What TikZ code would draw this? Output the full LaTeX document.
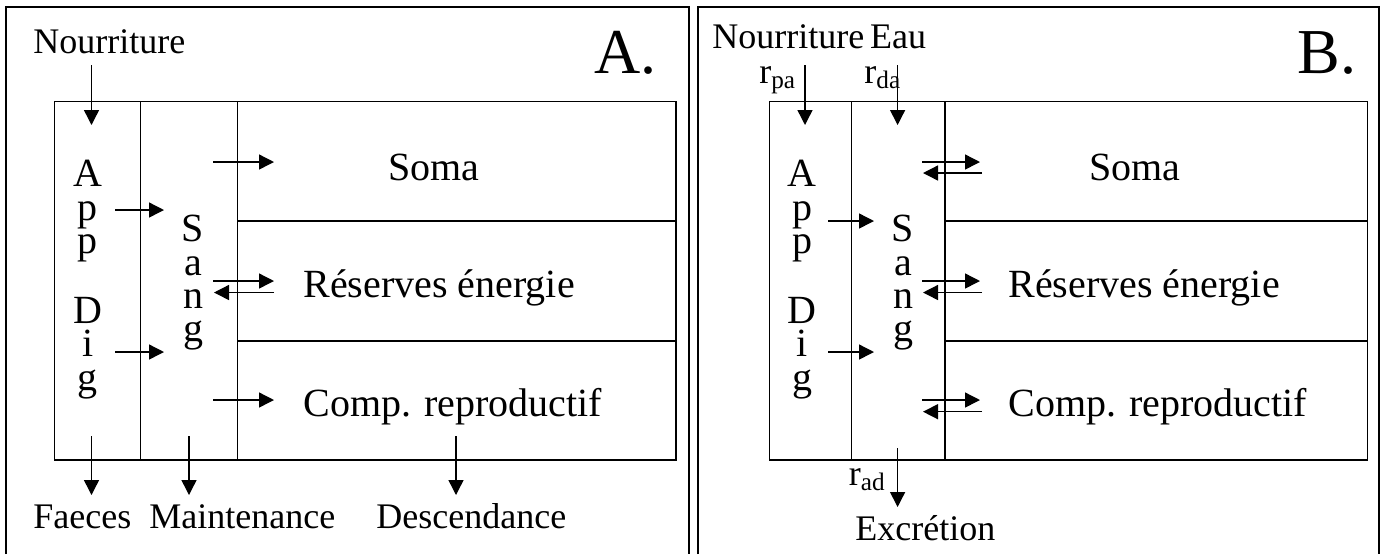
\documentclass[tikz,border=0pt]{standalone}
\usepackage{fontspec}
\setmainfont{Liberation Serif}
\usetikzlibrary{arrows.meta, positioning}

\begin{document}
\begin{tikzpicture}[
    x=0.5pt, y=-0.5pt,
    >={Triangle[length=7.5pt, width=7.5pt]},
    % Styles des cadres et compartiments
    frame/.style={line width=1pt},
    compline/.style={line width=0.7pt},
    flow/.style={->, line width=0.7pt},
    % Styles des textes
    lbl/.style={inner sep=0pt, anchor=base west, font=\fontsize{18}{20}\selectfont},
    boxtext/.style={inner sep=0pt, anchor=base west, font=\fontsize{20}{22}\selectfont},
    stack/.style={inner sep=0pt, anchor=north, align=center, font=\fontsize{20}{16.65}\selectfont},
    bigletter/.style={inner sep=0pt, anchor=base west, font=\fontsize{32}{34}\selectfont}
]
\useasboundingbox (0,0) rectangle (1391,554);

% -------------------------
% PANNEAU A (Gauche)
% -------------------------
\draw[frame] (6,554) |- (689,6.7) -- (689,554);
\draw[compline] (54.5,101.7) rectangle (676,460);
\draw[compline] (140.6,101.7) -- (140.6,460);
\draw[compline] (237.5,101.7) -- (237.5,460);
\draw[compline] (237.5,221) -- (676,221);
\draw[compline] (237.5,341) -- (676,341);

\node[bigletter] (lettreA) at (594,73.3) {A.};
\node[lbl] (nourritureA) at (33,53.3) {Nourriture};
\node[stack] (appA) at (88,160) {A\\p\\p\\[16.65pt]D\\i\\g};
\node[stack] (sangA) at (193,215) {S\\a\\n\\g};
\node[boxtext, anchor=base] (somaA) at (434,180) {Soma};
\node[boxtext] (reservesA) at (303,297) {Réserves énergie};
\node[boxtext] (compA) at (303,416.7) {Comp. reproductif};
\node[lbl] (faeces) at (33,528) {Faeces};
\node[lbl] (maintenance) at (149,528) {Maintenance};
\node[lbl] (descendance) at (376,528) {Descendance};

% Flux internes A
\coordinate (entreeA) at (91.5,65);
\coordinate (appA_in) at (91.5,125);
\draw[flow] (entreeA) -- (appA_in);

\coordinate (appA_o1) at (115,210);
\coordinate (sangA_i1) at (164,210);
\coordinate (appA_o2) at (115,352);
\coordinate (sangA_i2) at (164,352);
\draw[flow] (appA_o1) -- (sangA_i1);
\draw[flow] (appA_o2) -- (sangA_i2);

\coordinate (sangA_s) at (213,162);
\coordinate (somaA_in) at (274,162);
\draw[flow] (sangA_s) -- (somaA_in);

\coordinate (sangA_r) at (213,281);
\coordinate (resA_in) at (274,281);
\coordinate (resA_out) at (274,292.5);
\coordinate (sangA_rr) at (214,292.5);
\draw[flow] (sangA_r) -- (resA_in);
\draw[flow] (resA_out) -- (sangA_rr);

\coordinate (sangA_c) at (213,400);
\coordinate (compA_in) at (274,400);
\draw[flow] (sangA_c) -- (compA_in);

% Sorties A
\coordinate (faeces_src) at (91.5,436);
\coordinate (faeces_dst) at (91.5,495);
\coordinate (maint_src) at (189,436);
\coordinate (maint_dst) at (189,495);
\coordinate (desc_src) at (456,436);
\coordinate (desc_dst) at (456,495);
\draw[flow] (faeces_src) -- (faeces_dst);
\draw[flow] (maint_src) -- (maint_dst);
\draw[flow] (desc_src) -- (desc_dst);

% -------------------------
% PANNEAU B (Droite)
% -------------------------
\draw[frame] (698,554) |- (1379,6.7) -- (1379,554);
\draw[compline] (769.5,101.7) rectangle (1367.7,460);
\draw[compline] (851.4,101.7) -- (851.4,460);
\draw[compline] (945,101.7) -- (945,460);
\draw[compline] (945,221) -- (1367.7,221);
\draw[compline] (945,341) -- (1367.7,341);

\node[bigletter] (lettreB) at (1297,73.3) {B.};
\node[lbl] (nourritureB) at (712,48.3) {Nourriture};
\node[lbl, right=0.25em of nourritureB.base east, anchor=base west] (eau) {Eau};
\node[lbl] (rpa) at (759,83.3) {r\textsubscript{pa}};
\node[lbl] (rda) at (864,83.3) {r\textsubscript{da}};
\node[stack] (appB) at (802,160) {A\\p\\p\\[16.65pt]D\\i\\g};
\node[stack] (sangB) at (903,215) {S\\a\\n\\g};
\node[boxtext, anchor=base] (somaB) at (1135,180) {Soma};
\node[boxtext] (reservesB) at (1008,297) {Réserves énergie};
\node[boxtext] (compB) at (1008,416.7) {Comp. reproductif};
\node[lbl, anchor=base east] (rad) at (886,485) {r\textsubscript{ad}};
\node[lbl] (excretion) at (855,540) {Excrétion};

% Flux internes B
\coordinate (entreeB) at (805,65);
\coordinate (appB_in) at (805,125);
\coordinate (eauB) at (897.6,65);
\coordinate (sangB_in) at (897.6,125);
\draw[flow] (entreeB) -- (appB_in);
\draw[flow] (eauB) -- (sangB_in);

\coordinate (appB_o1) at (828,221);
\coordinate (sangB_i1) at (874,221);
\coordinate (appB_o2) at (828,352);
\coordinate (sangB_i2) at (874,352);
\draw[flow] (appB_o1) -- (sangB_i1);
\draw[flow] (appB_o2) -- (sangB_i2);

\coordinate (sangB_s) at (922,162);
\coordinate (somaB_in) at (980,162);
\coordinate (somaB_out) at (982,173);
\coordinate (sangB_ss) at (923,173);
\draw[flow] (sangB_s) -- (somaB_in);
\draw[flow] (somaB_out) -- (sangB_ss);

\coordinate (sangB_r) at (922,281);
\coordinate (resB_in) at (980,281);
\coordinate (resB_out) at (982,292.5);
\coordinate (sangB_rr) at (923,292.5);
\draw[flow] (sangB_r) -- (resB_in);
\draw[flow] (resB_out) -- (sangB_rr);

\coordinate (sangB_c) at (922,400);
\coordinate (compB_in) at (980,400);
\coordinate (compB_out) at (982,411.7);
\coordinate (sangB_cc) at (923,411.7);
\draw[flow] (sangB_c) -- (compB_in);
\draw[flow] (compB_out) -- (sangB_cc);

% Sortie B
\coordinate (excr_src) at (897.6,448);
\coordinate (excr_dst) at (897.6,507);
\draw[flow] (excr_src) -- (excr_dst);

\end{tikzpicture}
\end{document}
